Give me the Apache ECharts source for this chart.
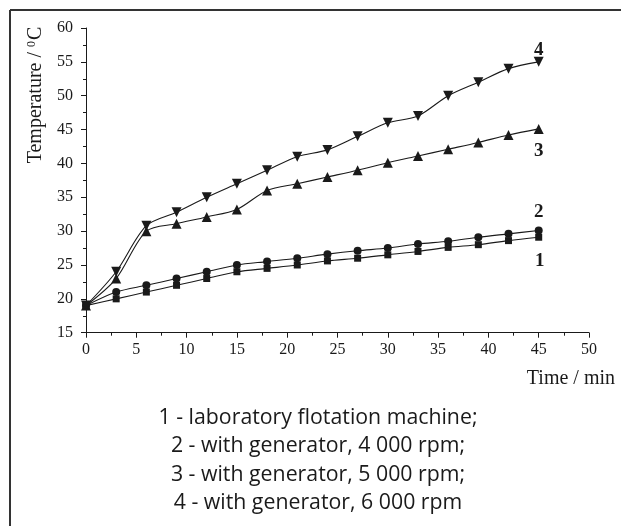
<!DOCTYPE html>
<html><head><meta charset="utf-8">
<script src="https://cdn.jsdelivr.net/npm/echarts@6/dist/echarts.min.js"></script>
<style>html,body{margin:0;padding:0;background:#fff}#c{width:621px;height:526px}</style>
</head><body><div id="c"></div>
<script>
const times = [0, 3, 6, 9, 12, 15, 18, 21, 24, 27, 30, 33, 36, 39, 42, 45];
const series1 = [19, 20, 21, 22, 23, 24, 24.5, 25, 25.6, 26, 26.5, 27, 27.6, 28, 28.6, 29.1];
const series2 = [19, 21, 22, 23, 24, 25, 25.5, 26, 26.6, 27.1, 27.5, 28.1, 28.5, 29.1, 29.6, 30.1];
const series3 = [19, 23, 30, 31.1, 32.1, 33.2, 36, 37, 38, 39, 40.1, 41.1, 42.1, 43.1, 44.2, 45.1];
const series4 = [19, 24, 30.8, 32.8, 35, 37, 39, 41, 42, 44, 46, 47, 50, 52, 54, 55];
const seriesNames = ['1', '2', '3', '4'];
const legendLines = [
  '1 - laboratory flotation machine;',
  '2 - with generator, 4 000 rpm;',
  '3 - with generator, 5 000 rpm;',
  '4 - with generator, 6 000 rpm'
];
const yTitle = 'Temperature / {sup|0}C';
const xTitle = 'Time / min';

const serif = 'Liberation Serif';
const ink = '#1a1a1a';

function buildData(vals, labelCfg) {
  return vals.map((v, i) => {
    if (i === vals.length - 1) {
      return { value: [times[i], v], label: labelCfg };
    }
    return [times[i], v];
  });
}
const numLabel = (name, pos, dist, off) => ({
  show: true, formatter: name, position: pos, distance: dist, offset: off || [0, 0],
  fontFamily: serif, fontWeight: 'bold', fontSize: 19, color: ink
});

const common = { type: 'line', smooth: 0.3, lineStyle: { color: ink, width: 1.1 }, itemStyle: { color: ink }, z: 3 };

const legendGraphics = legendLines.map((t, i) => ({
  type: 'text', x: 318, y: 418 + i * 28.3,
  style: { text: t, fontFamily: 'Open Sans', fontSize: 21.3, fill: ink, align: 'center', verticalAlign: 'middle' }
}));

const chart = echarts.init(document.getElementById('c'), null, { renderer: 'canvas' });
chart.setOption({
  animation: false,
  backgroundColor: '#fff',
  grid: { left: 86, top: 28, width: 503, height: 304.7, containLabel: false },
  xAxis: {
    type: 'value', min: 0, max: 50, interval: 5,
    axisLine: { show: true, lineStyle: { color: ink, width: 1 } },
    axisTick: { show: true, length: 5, lineStyle: { color: ink } },
    minorTick: { show: true, splitNumber: 2, length: 3, lineStyle: { color: ink } },
    splitLine: { show: false },
    axisLabel: { fontFamily: serif, fontSize: 16, color: ink, margin: 9 }
  },
  yAxis: {
    type: 'value', min: 15, max: 60, interval: 5,
    axisLine: { show: true, lineStyle: { color: ink, width: 1 } },
    axisTick: { show: true, length: 5, lineStyle: { color: ink } },
    minorTick: { show: true, splitNumber: 2, length: 3, lineStyle: { color: ink } },
    splitLine: { show: false },
    axisLabel: { fontFamily: serif, fontSize: 16, color: ink, margin: 13 }
  },
  series: [
    Object.assign({}, common, { name: seriesNames[0], symbol: 'rect', symbolSize: 7,
      data: buildData(series1, numLabel(seriesNames[0], 'bottom', 11, [1, 0])) }),
    Object.assign({}, common, { name: seriesNames[1], symbol: 'circle', symbolSize: 8,
      data: buildData(series2, numLabel(seriesNames[1], 'top', 5)) }),
    Object.assign({}, common, { name: seriesNames[2], symbol: 'triangle', symbolSize: 10,
      data: buildData(series3, numLabel(seriesNames[2], 'bottom', 8)) }),
    Object.assign({}, common, { name: seriesNames[3], symbol: 'triangle', symbolRotate: 180, symbolSize: 10,
      data: buildData(series4, numLabel(seriesNames[3], 'top', -3)) })
  ],
  graphic: [
    { type: 'line', shape: { x1: 10, y1: 10, x2: 621, y2: 10 }, style: { stroke: '#333', lineWidth: 2 } },
    { type: 'line', shape: { x1: 10, y1: 10, x2: 10, y2: 526 }, style: { stroke: '#333', lineWidth: 2 } },
    { type: 'text', x: 36, y: 95, rotation: Math.PI / 2,
      style: { text: yTitle, fontFamily: serif, fontSize: 20, fill: ink, align: 'center', verticalAlign: 'middle',
        rich: { sup: { fontFamily: serif, fontSize: 12, fill: ink, verticalAlign: 'bottom', padding: [0, 1, 8, 0] } } } },
    { type: 'text', x: 615, y: 379,
      style: { text: xTitle, fontFamily: serif, fontSize: 20, fill: ink, align: 'right', verticalAlign: 'middle' } }
  ].concat(legendGraphics)
});
</script>
</body></html>
